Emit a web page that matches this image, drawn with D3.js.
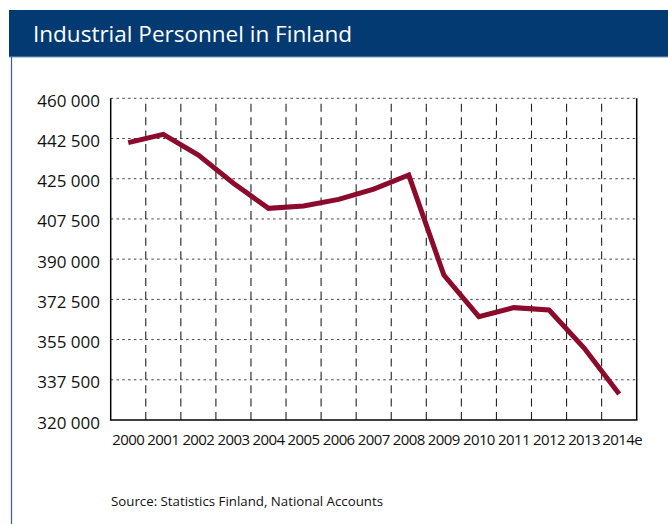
<!DOCTYPE html>
<html>
<head>
<meta charset="utf-8">
<script src="https://cdn.jsdelivr.net/npm/d3@7"></script>
<style>
  html, body { margin: 0; padding: 0; background: #fff; }
  svg { display: block; }
  text { font-family: "Open Sans", "Noto Sans", sans-serif; }
</style>
</head>
<body>
<svg id="chart" width="668" height="524"></svg>
<script>
const title = "Industrial Personnel in Finland";
const source = "Source: Statistics Finland, National Accounts";
const years = ["2000","2001","2002","2003","2004","2005","2006","2007","2008","2009","2010","2011","2012","2013","2014e"];
const personnel = [440700, 444300, 435300, 423000, 412100, 413100, 416000, 420500, 426600, 383100, 365000, 368900, 367900, 351300, 331300];
const yTicks = [320000, 337500, 355000, 372500, 390000, 407500, 425000, 442500, 460000];

(function () {
const svg = d3.select("#chart");
const W = 668, H = 524;

// frame
svg.append("rect").attr("x", 9).attr("y", 10).attr("width", W - 9).attr("height", 47).attr("fill", "#043a72");
svg.append("line").attr("x1", 9).attr("x2", W).attr("y1", 57).attr("y2", 57).attr("stroke", "#7f9cc0").attr("stroke-width", 1);
svg.append("line").attr("x1", 11.5).attr("x2", 11.5).attr("y1", 57).attr("y2", H).attr("stroke", "#3a5f94").attr("stroke-width", 1.2);

svg.append("text").attr("x", 33).attr("y", 42).attr("fill", "#fff")
  .attr("font-size", 22.5).attr("textLength", 319).attr("lengthAdjust", "spacingAndGlyphs").text(title);

const pl = 110.7, pr = 636.7, pt = 98.3, pb = 420;
const x = d3.scaleBand().domain(years).range([pl, pr]);
const y = d3.scaleLinear().domain([320000, 460000]).range([pb, pt]);

const g = svg.append("g");

// horizontal dotted gridlines
g.selectAll("line.h").data(yTicks.slice(1)).enter().append("line")
  .attr("x1", pl).attr("x2", pr)
  .attr("y1", d => y(d)).attr("y2", d => y(d))
  .attr("stroke", "#444").attr("stroke-width", 1).attr("stroke-dasharray", "2.5,3.3");

// vertical dashed gridlines at band boundaries
g.selectAll("line.v").data(years.slice(1)).enter().append("line")
  .attr("x1", d => x(d)).attr("x2", d => x(d))
  .attr("y1", pb).attr("y2", pt)
  .attr("stroke", "#222").attr("stroke-width", 1.1).attr("stroke-dasharray", "8,5.4");

// axes lines (left, bottom, right)
g.append("line").attr("x1", pl).attr("x2", pl).attr("y1", pt).attr("y2", pb).attr("stroke", "#000").attr("stroke-width", 1.5);
g.append("line").attr("x1", pl - 0.75).attr("x2", pr + 0.75).attr("y1", pb).attr("y2", pb).attr("stroke", "#000").attr("stroke-width", 1.5);
g.append("line").attr("x1", pr).attr("x2", pr).attr("y1", pt).attr("y2", pb).attr("stroke", "#000").attr("stroke-width", 1.5);

// y labels
const fmt = d => d3.format(",")(d).replace(/,/g, " ");
g.selectAll("text.yl").data(yTicks).enter().append("text")
  .attr("x", 100).attr("y", d => y(d) + 8.5)
  .attr("text-anchor", "end").attr("font-size", 17).attr("fill", "#111")
  .text(fmt);

// x labels
g.selectAll("text.xl").data(years).enter().append("text")
  .attr("x", d => x(d) + x.bandwidth() / 2 + (d.length > 4 ? 3 : 0)).attr("y", 445)
  .attr("text-anchor", "middle").attr("font-size", 15).attr("letter-spacing", -0.6).attr("fill", "#111")
  .text(d => d);

// line
const line = d3.line().x((d, i) => x(years[i]) + x.bandwidth() / 2).y(d => y(d));
g.append("path").datum(personnel).attr("d", line)
  .attr("fill", "none").attr("stroke", "#8c0a2b").attr("stroke-width", 5).attr("stroke-linejoin", "miter");

svg.append("text").attr("x", 111).attr("y", 506).attr("font-size", 13).attr("fill", "#111")
  .attr("textLength", 272).attr("lengthAdjust", "spacingAndGlyphs").text(source);
})();
</script>
</body>
</html>
